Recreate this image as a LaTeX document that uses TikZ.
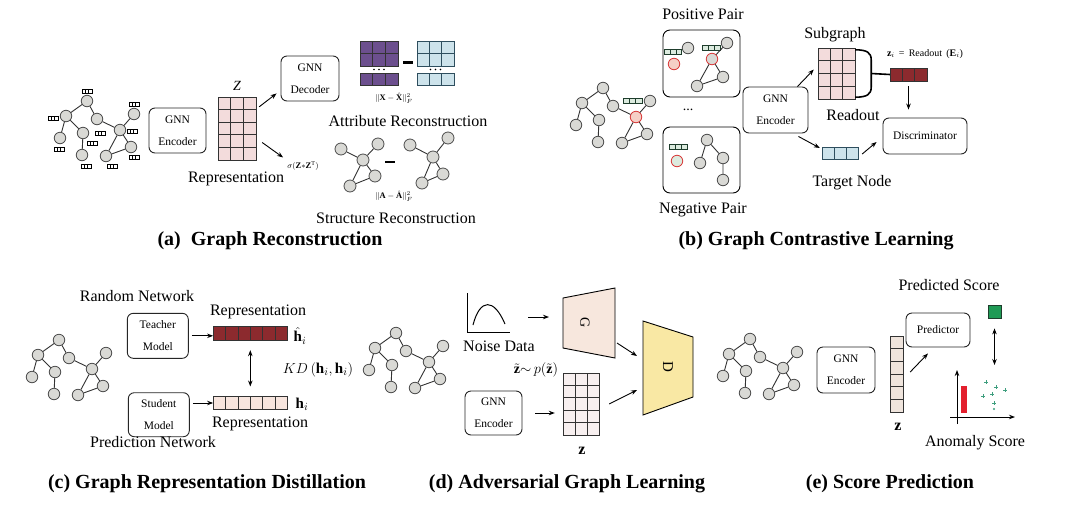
\documentclass[tikz,border=0pt]{standalone}
\usepackage{fontspec}
\setmainfont{Liberation Serif}
\usetikzlibrary{arrows.meta,calc}
\definecolor{nodeG}{HTML}{D9D9D5}
\definecolor{nodeB}{HTML}{4D4D4D}
\definecolor{edgeC}{HTML}{333333}
\definecolor{pinkC}{HTML}{F3DCDC}
\definecolor{purpC}{HTML}{6C4F8E}
\definecolor{blueC}{HTML}{CDE3EB}
\definecolor{blueB}{HTML}{2E4E5E}
\definecolor{dredC}{HTML}{8C2A2E}
\definecolor{lpinkC}{HTML}{F7E5DE}
\definecolor{redB}{HTML}{D83A3A}
\definecolor{pinkN}{HTML}{F5CFC6}
\definecolor{greenA}{HTML}{DCEBDF}
\definecolor{greenB}{HTML}{1E3D2C}
\definecolor{gC}{HTML}{F7E7DD}
\definecolor{dC}{HTML}{F9E8A4}
\definecolor{zdC}{HTML}{F8F0F0}
\definecolor{zeC}{HTML}{EFE4DC}
\definecolor{sqG}{HTML}{1F9A55}
\definecolor{plusG}{HTML}{3E9E7E}
\definecolor{ptRed}{HTML}{E3202E}
\tikzset{
  gn/.style={circle, draw=nodeB, fill=nodeG, line width=0.8pt, minimum size=11.5pt, inner sep=0pt},
  redn/.style={draw=redB, fill=pinkN},
  ed/.style={draw=edgeC, line width=0.9pt},
  rbox/.style={draw=black!85, rounded corners=6pt, line width=0.9pt, align=center, font=\fontsize{11.5}{22}\selectfont, inner sep=0pt},
  arr/.style={-{Stealth[length=6pt,width=4.5pt]}, line width=0.9pt},
  darr/.style={{Stealth[length=6pt,width=4.5pt]}-{Stealth[length=6pt,width=4.5pt]}, line width=0.9pt},
  lbl/.style={font=\fontsize{16}{18}\selectfont, inner sep=0pt},
  ttl/.style={font=\fontsize{20}{22}\selectfont\bfseries, inner sep=0pt},
  cell/.style={draw=black!80, line width=0.7pt},
  abox/.style={draw=black, line width=0.6pt, fill=white},
  gbox/.style={draw=greenB, line width=0.6pt, fill=greenA},
  small/.style={font=\fontsize{8.5}{9}\selectfont, inner sep=0pt},
  gridn/.style={inner sep=0pt, draw=none}
}
\newcommand\cellgrid[7]{%
  \foreach \ci in {1,...,#3}{\foreach \cj in {1,...,#4}{%
    \draw[#7] ({#1+(\ci-1)*#5},{#2+(\cj-1)*#6}) rectangle ++(#5,#6);}}}
\newcommand\attrbox[5]{%
  \foreach \ci in {0,1,2}{\draw[#5] ({#1-1.5*#3+\ci*#3},{#2-0.5*#4}) rectangle ++(#3,#4);}}
\newcommand\gwork[4]{%
  \begin{scope}[shift={(#2,#3)}]
    \node[gn] (#1-1) at (0,0) {};
    \node[gn] (#1-2) at (-21,15) {};
    \node[gn] (#1-3) at (10,18) {};
    \node[gn] (#1-4) at (-27,37) {};
    \node[gn] (#1-5) at (-4,32) {};
    \node[gn] (#1-6) at (-5,54) {};
    \node[gn,#4] (#1-7) at (33,29) {};
    \node[gn] (#1-8) at (47,13) {};
    \node[gn] (#1-9) at (44,46) {};
    \node[gn] (#1-10) at (19,55) {};
  \end{scope}
  \draw[ed] (#1-1)--(#1-2) (#1-1)--(#1-3) (#1-2)--(#1-4) (#1-2)--(#1-5) (#1-5)--(#1-6)
            (#1-3)--(#1-7) (#1-7)--(#1-8) (#1-7)--(#1-9) (#1-7)--(#1-10) (#1-10)--(#1-9);}
\begin{document}
\begin{tikzpicture}[x=1pt,y=-1pt]
\fill[white] (0,0) rectangle (1080,507);
\useasboundingbox (0,0) rectangle (1080,507);

%================ (a) =================
\gwork{ga}{87}{101}{}
\foreach \ax/\ay in {87/91,53/118,100/133,92/143,59/149,86/166,134/104,132/131,134/157,112/166}
  {\attrbox{\ax}{\ay}{3.4}{3.6}{abox}}
\node[rbox, minimum width=57, minimum height=45] (encA) at (177.5,130.5) {GNN\\Encoder};
\cellgrid{218}{97}{3}{5}{12.67}{12.6}{cell,fill=pinkC}
\node[gridn, minimum width=38, minimum height=63] (ZA) at (237,128.5) {};
\node[font=\fontsize{14}{16}\selectfont\itshape, inner sep=0pt] (zlabA) at (237,86) {Z};
\node[lbl] (repA) at (236,179) {Representation};
\node[rbox, minimum width=58, minimum height=45] (decA) at (310,78.5) {GNN\\Decoder};
\draw[arr] ($(ZA.north east)+(3,10)$) -- ($(decA.south west)+(-4,-8)$);
\node[small] (sigA) at (303,166) {$\sigma(\mathbf{Z}{*}\mathbf{Z}^{\mathrm{T}})$};
\draw[arr] ($(ZA.east)+(6,14)$) -- ($(sigA.north west)+(-4,-4)$);
% attribute matrices
\cellgrid{360}{41}{3}{2}{12.67}{12.5}{cell,fill=purpC}
\cellgrid{360}{73}{3}{1}{12.67}{12.5}{cell,fill=purpC}
\node[gridn, minimum width=38, minimum height=44.5] (XA) at (379,63.25) {};
\cellgrid{417}{41}{3}{2}{12.33}{12.5}{cell,draw=blueB,fill=blueC}
\cellgrid{417}{73}{3}{1}{12.33}{12.5}{cell,draw=blueB,fill=blueC}
\node[gridn, minimum width=37, minimum height=44.5] (XB) at (435.5,63.25) {};
\foreach \dx in {374,379,384}{\fill (\dx,69.5) circle (0.9);}
\foreach \dx in {430.5,435.5,440.5}{\fill (\dx,69.5) circle (0.9);}
\draw[line width=2.5pt] ($(XA.east)+(5,-1)$) -- ($(XB.west)+(-4,-1)$);
\node[small] (nX) at (394,98) {$\|\mathbf{X}-\hat{\mathbf{X}}\|_F^2$};
\node[lbl] (attrA) at (408,121) {Attribute Reconstruction};
% structure graphs
\node[gn, minimum size=12] (s1) at (341,149) {};
\node[gn, minimum size=12] (s2) at (378,144) {};
\node[gn, minimum size=12] (s3) at (363,160) {};
\node[gn, minimum size=12] (s4) at (375,176) {};
\node[gn, minimum size=12] (s5) at (350,186) {};
\draw[ed] (s1)--(s3) (s2)--(s3) (s3)--(s4) (s3)--(s5) (s5)--(s4);
\node[gn, minimum size=12] (t1) at (410,145) {};
\node[gn, minimum size=12] (t2) at (448,138) {};
\node[gn, minimum size=12] (t3) at (433,157) {};
\node[gn, minimum size=12] (t4) at (443,174) {};
\node[gn, minimum size=12] (t5) at (422,183) {};
\draw[ed] (t1)--(t3) (t2)--(t3) (t3)--(t4) (t3)--(t5) (t5)--(t4);
\draw[line width=2.2pt] (385,162) -- (395,162);
\node[small] (nA) at (394,196) {$\|\mathbf{A}-\hat{\mathbf{A}}\|_F^2$};
\node[lbl] (strA) at (396,218) {Structure Reconstruction};
\node[ttl] (ta) at (270,241) {(a)\ \ Graph Reconstruction};

%================ (b) =================
\gwork{gb}{603}{88}{redn}
\attrbox{632.5}{100.5}{6.3}{5}{gbox}
\node[lbl] (posL) at (703,14) {Positive Pair};
\node[draw, rounded corners=7pt, line width=0.9pt, minimum width=77, minimum height=67, inner sep=0pt] (pos) at (701.5,63.5) {};
\attrbox{673}{51.5}{5.8}{5}{gbox}
\node[gn] (pp1) at (688,48) {};
\node[gn, redn] (pr) at (674,64) {};
\attrbox{711}{48}{6}{5.5}{gbox}
\node[gn] (pp2) at (727,43) {};
\node[gn, draw=redB] (pp3) at (712,59) {};
\node[gn] (pp4) at (723,77) {};
\node[gn] (pp5) at (697,86) {};
\draw[ed] (pp3)--(pp2) (pp3)--(pp4) (pp3)--(pp5) (pp5)--(pp4);
\node[font=\fontsize{14}{16}\selectfont, inner sep=0pt] (dotsB) at (688,110) {...};
\node[draw, rounded corners=7pt, line width=0.9pt, minimum width=77, minimum height=66, inner sep=0pt] (neg) at (701.5,160) {};
\attrbox{678.5}{147}{6}{5}{gbox}
\node[gn, draw=redB, fill=greenA] (nr) at (677,161) {};
\node[gn] (np1) at (707,140) {};
\node[gn] (np2) at (700,163) {};
\node[gn] (np3) at (723,158) {};
\node[gn] (np4) at (723,180) {};
\draw[ed] (np1)--(np2) (np1)--(np3) (np3)--(np4);
\node[lbl] (negL) at (703,210) {Negative Pair};
\node[rbox, minimum width=65, minimum height=46] (encB) at (775.5,110) {GNN\\Encoder};
\cellgrid{818}{48}{3}{4}{12.33}{12.75}{cell,fill=pinkC}
\node[gridn, minimum width=37, minimum height=51] (SG) at (836.5,73.5) {};
\node[lbl] (sgL) at (835,35) {Subgraph};
\draw[line width=1.6pt] ($(SG.north east)+(0,2)$) .. controls ($(SG.north east)+(12,2)$) and ($(SG.north east)+(16,5)$) .. ($(SG.north east)+(16,12)$)
   -- ($(SG.south east)+(16,-12)$) .. controls ($(SG.south east)+(16,-5)$) and ($(SG.south east)+(12,-2)$) .. ($(SG.south east)+(0,-2)$);
\coordinate (brk) at ($(SG.east)+(16,0)$);
\cellgrid{890}{68}{3}{1}{12.33}{13}{cell,fill=dredC}
\node[gridn, minimum width=37, minimum height=13] (RV) at (908.5,74.5) {};
\draw[line width=1.6pt] (brk) -- (RV.west);
\node[font=\fontsize{10}{12}\selectfont, inner sep=0pt] (zrL) at (925,54) {$\mathbf{z}_i$ \,=\, Readout \,($\mathbf{E}_i$)};
\node[rbox, minimum width=84, minimum height=36] (disc) at (925,136) {Discriminator};
\coordinate (dtop) at (RV.south |- disc.north);
\draw[arr] ($(RV.south)+(0,5)$) -- ($(dtop)+(0,-8)$);
\node[lbl] (roL) at (853,115) {Readout};
\draw[arr] ($(encB.north east)+(-11,0)$) -- ($(SG.west)+(-4,-4)$);
\cellgrid{822}{147}{3}{1}{12}{12}{cell,draw=blueB,fill=blueC}
\node[gridn, minimum width=36, minimum height=12] (TN) at (840,153) {};
\draw[arr] ($(encB.south east)+(-10,3)$) -- ($(TN.west)+(-2,-5)$);
\draw[arr] ($(TN.east)+(4,1)$) -- ($(disc.west)+(-6,6)$);
\node[lbl] (tnL) at (852,183) {Target Node};
\node[ttl] (tb) at (816,241) {(b) Graph Contrastive Learning};

%================ (c) =================
\gwork{gc}{59}{340}{}
\node[lbl] (rnL) at (137,296) {Random Network};
\node[rbox, minimum width=61, minimum height=45] (tea) at (157.8,335.8) {Teacher\\Model};
\node[rbox, minimum width=61, minimum height=44] (stu) at (158.8,414.7) {Student\\Model};
\cellgrid{213.3}{326.7}{6}{1}{12.33}{13.3}{cell,fill=dredC}
\node[gridn, minimum width=74, minimum height=13.3] (RVc) at (250.3,333.35) {};
\cellgrid{213.3}{396.7}{6}{1}{12.33}{12.6}{cell,fill=lpinkC}
\node[gridn, minimum width=74, minimum height=12.6] (LVc) at (250.3,403) {};
\draw[arr] ([xshift=3pt]tea.east) -- (tea.east -| RVc.west);
\draw[arr] ([xshift=3pt]stu.east |- LVc.west) -- (LVc.west);
\draw[darr] ([yshift=-10pt]RVc.south) -- ([yshift=10pt]LVc.north);
\node[lbl] (repC1) at (258,312) {Representation};
\node[lbl] (repC2) at (260,424) {Representation};
\node[font=\fontsize{15}{17}\selectfont, inner sep=0pt] (hh) at (300,336) {$\hat{\mathbf{h}}_i$};
\node[font=\fontsize{15}{17}\selectfont, inner sep=0pt] (hl) at (302,404) {$\mathbf{h}_i$};
\node[font=\fontsize{15}{17}\selectfont, inner sep=0pt] (kd) at (318,370) {$KD\left(\mathbf{h}_i,\mathbf{h}_i\right)$};
\node[lbl] (pnL) at (153,442) {Prediction Network};
\node[ttl] (tc) at (207,484) {(c) Graph Representation Distillation};

%================ (d) =================
\gwork{gd}{396}{333}{}
\draw[line width=1pt] (467,293) -- (467,332) -- (510,332);
\draw[line width=1pt] (473,325) .. controls (480,298) and (494,298) .. (505,324);
\node[lbl] (ndL) at (499,346) {Noise Data};
\coordinate (noiseR) at (528,317);
\coordinate (Gin) at (549,317);
\draw[arr] (noiseR) -- (Gin);
\draw[line width=0.9pt, fill=gC] (563,298) -- (615,288) -- (615,358) -- (563,348) -- cycle;
\node[rotate=-90, font=\fontsize{14}{16}\selectfont, inner sep=0pt] (Glab) at (585,323) {G};
\draw[line width=0.9pt, fill=dC] (643,321) -- (693,337) -- (693,397) -- (643,415) -- cycle;
\node[rotate=-90, font=\fontsize{15}{17}\selectfont, inner sep=0pt] (Dlab) at (668,367) {D};
\coordinate (Gout) at (617,343);
\coordinate (Din1) at (637,356);
\draw[arr] (Gout) -- (Din1);
\node[font=\fontsize{14}{16}\selectfont, inner sep=0pt] (zpL) at (536,370) {$\tilde{\mathbf{z}}{\sim}\,p(\tilde{\mathbf{z}})$};
\cellgrid{563}{373}{3}{5}{12}{12.4}{cell,fill=zdC}
\node[gridn, minimum width=36, minimum height=62] (Zd) at (581,404) {};
\node[font=\fontsize{16}{18}\selectfont, inner sep=0pt] (zdL) at (582,451) {$\mathbf{z}$};
\node[rbox, minimum width=57, minimum height=44] (encD) at (493.5,413) {GNN\\Encoder};
\draw[arr] ($(encD.east)+(13,0)$) -- ($(Zd.west)+(-8,9)$);
\coordinate (Din2) at (637,390);
\draw[arr] ($(Zd.east)+(10,0)$) -- (Din2);
\node[ttl] (td) at (567,484) {(d) Adversarial Graph Learning};

%================ (e) =================
\gwork{ge}{750}{339}{}
\node[rbox, minimum width=58, minimum height=46] (encE) at (846,370) {GNN\\Encoder};
\cellgrid{890}{336}{1}{6}{13}{12.67}{cell,fill=zeC}
\node[gridn, minimum width=13, minimum height=76] (Ze) at (896.5,374) {};
\node[font=\fontsize{16}{18}\selectfont, inner sep=0pt] (zeL) at (898,427) {$\mathbf{z}$};
\node[rbox, minimum width=64, minimum height=34] (pred) at (938,330) {Predictor};
\draw[arr] ($(Ze.east)+(7,-2)$) -- ($(pred.south)+(-10,6)$);
\node[lbl] (psL) at (949,285) {Predicted Score};
\node[draw=greenB, fill=sqG, line width=0.8pt, minimum size=13pt, inner sep=0pt] (gsq) at (994.5,311.5) {};
\coordinate (plotTop) at (994.5,365);
\draw[darr] ($(gsq.south)+(0,10)$) -- (plotTop);
\coordinate (axO) at (957,417);
\draw[arr] ($(axO)+(0,7)$) -- ($(axO)+(0,-47)$);
\draw[arr] ($(axO)+(-7,0)$) -- ($(axO)+(58,0)$);
\foreach \k in {0,...,8}{\fill[ptRed] (961,{386+\k*3}) rectangle ++(6,2.5);}
\foreach \px/\py in {986/382,996/387,1005/390,983/396,992/394,994/403}
  {\draw[plusG, line width=0.7pt] ({\px-1.6},\py) -- ({\px+1.6},\py) (\px,{\py-1.6}) -- (\px,{\py+1.6});}
\fill[plusG] (994,409) circle (1.1);
\node[lbl] (asL) at (975,443) {Anomaly Score};
\node[ttl] (te) at (890,484) {(e) Score Prediction};
\end{tikzpicture}
\end{document}
